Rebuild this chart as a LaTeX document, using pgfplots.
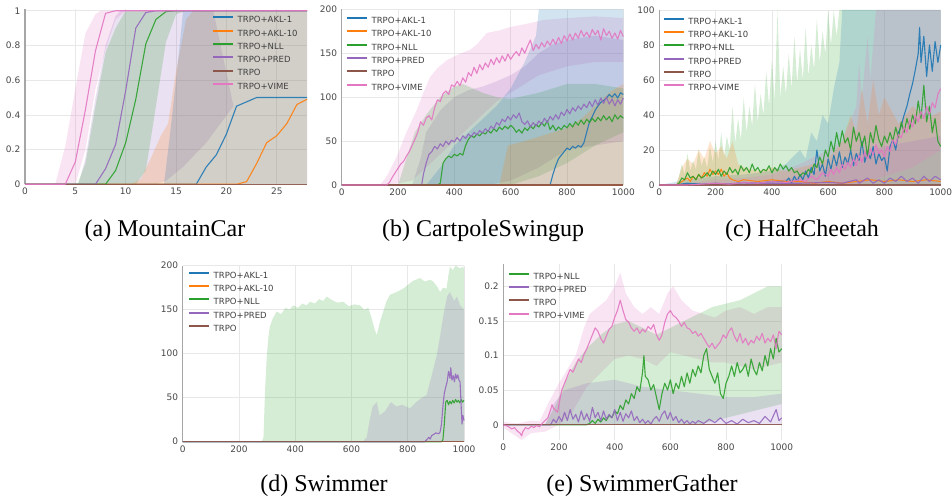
\documentclass[border=0pt]{standalone}
\usepackage{fontspec}
\setmainfont{Liberation Serif}
\newfontfamily\pf{DejaVu Sans}
\usepackage{pgfplots}
\pgfplotsset{compat=1.18}
\definecolor{cB}{HTML}{1F77B4}
\definecolor{cO}{HTML}{FF7F0E}
\definecolor{cG}{HTML}{2CA02C}
\definecolor{cP}{HTML}{9467BD}
\definecolor{cR}{HTML}{8C564B}
\definecolor{cK}{HTML}{E377C2}
\pgfplotsset{
  base/.style={
    scale only axis, anchor=south west, clip=false,
    axis lines=left, axis line style={-},
    x axis line style={draw=none},
    y axis line style={draw=black!35, line width=1.1pt},
    grid=major, grid style={black!9, line width=0.6pt},
    major tick length=0pt, tick style={draw=none},
    /pgf/number format/assume math mode=true,
    ticklabel style={font=\pf\fontsize{9}{10}\selectfont, text=black!72, inner sep=0pt},
    yticklabel style={xshift=-4.5pt},
    xticklabel style={yshift=-3.5pt},
    legend cell align=left,
    legend style={draw=none, fill=none, anchor=north west, inner sep=0pt, row sep=2.3pt, column sep=2pt,
      font=\pf\fontsize{8.5}{9}\selectfont, text=black!75,
      nodes={inner sep=1.5pt, text height=6.4pt, text depth=1.6pt}},
    legend image code/.code={\draw[#1, line width=2pt, opacity=1] (0pt,3pt) -- (20pt,3pt);},
  },
  band/.style={fill=#1, fill opacity=0.2, draw=none, forget plot},
  ln/.style={color=#1, line width=1.1pt, line join=round, draw opacity=0.9},
}
\begin{document}
\begin{tikzpicture}[x=1pt,y=1pt]
\useasboundingbox (0,0) rectangle (952,498);
% ---------------- (a) MountainCar
\begin{axis}[base, at={(25pt,313.7pt)}, width=282pt, height=175.3pt,
  xmin=0, xmax=28, ymin=0, ymax=1.01,
  xtick={0,5,10,15,20,25}, ytick={0,0.2,0.4,0.6,0.8,1},
  yticklabels={0,0.2,0.4,0.6,0.8,1},
  legend style={at={(0.663,0.968)}}]
\addplot[band=cK] coordinates {(3,0)(4,0.22)(5,0.55)(6,0.87)(7,0.98)(7.5,1)(28,1)(10,1)(9,0.95)(8,0.78)(7,0.55)(6,0.2)(5,0)};
\addplot[band=cP] coordinates {(5.3,0)(6,0.15)(7,0.5)(8,0.8)(9,0.97)(9.5,1)(18.7,1)(20.7,0.45)(18,0.24)(15.7,0.1)(14,0.02)(13,0)};
\addplot[band=cG] coordinates {(5.2,0)(6,0.12)(7,0.45)(8,0.76)(9,0.9)(10,1)(16,1)(15,0.98)(14,0.82)(13,0.45)(12,0.08)(11,0)};
\addplot[band=cO] coordinates {(10.5,0)(11.5,0.03)(12.5,0.15)(13.5,0.28)(14.2,0.35)(15,0.65)(16,0.95)(16.7,1)(28,1)(28,0)};
\addplot[band=cB] coordinates {(13.8,0)(14.4,0.29)(15,0.6)(15.7,1)(28,1)(28,0)};
\addplot[ln=cB] coordinates {(0,0)(17,0)(18,0.1)(19,0.17)(20,0.29)(21,0.45)(22,0.475)(23,0.5)(28,0.5)};
\addplot[ln=cO] coordinates {(0,0)(21,0)(22,0.015)(23,0.12)(24,0.24)(25,0.28)(26,0.35)(27,0.46)(28,0.49)};
\addplot[ln=cG] coordinates {(0,0)(8,0)(9,0.08)(10,0.24)(11,0.49)(12,0.81)(13,0.95)(14,0.995)(15,1)(28,1)};
\addplot[ln=cP] coordinates {(0,0)(7,0)(8,0.09)(9,0.23)(10,0.54)(11,0.9)(12,0.99)(13,1)(28,1)};
\addplot[ln=cR] coordinates {(0,0)(28,0)};
\addplot[ln=cK] coordinates {(0,0)(4,0)(5,0.13)(6,0.43)(7,0.77)(8,0.985)(9,1)(28,1)};
\legend{TRPO+AKL-1,TRPO+AKL-10,TRPO+NLL,TRPO+PRED,TRPO,TRPO+VIME}
\end{axis}
% ---------------- (b) CartpoleSwingup
\begin{axis}[base, at={(341.7pt,313pt)}, width=281.6pt, height=175.7pt,
  xmin=0, xmax=1000, ymin=0, ymax=200,
  xtick={0,200,400,600,800,1000}, xticklabels={0,200,400,600,800,1000},
  ytick={0,50,100,150,200},
  legend style={at={(0.015,0.965)}}]
\addplot[band=cK] coordinates {(137,0)(160,10)(195,32)(230,60)(266,85)(290,105)(314,123)(340,133)(373,142)(410,148)(456,154)(480,160)(515,173)(560,176)(600,180)(650,183)(692,186)(720,188)(760,189)(800,190)(900,192)(1000,190)(1000,140)(900,140)(800,135)(700,125)(650,115)(600,105)(550,95)(500,80)(450,65)(400,50)(350,35)(300,20)(250,5)(170,0)};
\addplot[band=cP] coordinates {(250,0)(280,30)(300,60)(350,85)(400,100)(450,108)(500,112)(550,118)(600,125)(650,135)(700,150)(750,160)(800,165)(900,170)(1000,165)(1000,50)(900,45)(800,40)(700,20)(600,5)(520,0)};
\addplot[band=cG] coordinates {(200,0)(230,30)(260,60)(300,80)(350,100)(400,112)(430,115)(500,105)(550,100)(600,98)(700,105)(800,115)(900,115)(1000,110)(1000,60)(900,45)(800,25)(700,10)(600,0)};
\addplot[band=cB] coordinates {(300,0)(350,20)(400,45)(450,60)(500,75)(550,90)(600,110)(650,140)(690,170)(700,200)(1000,200)(1000,0)};
\addplot[band=cO] coordinates {(560,0)(590,45)(650,50)(700,55)(750,60)(800,65)(850,75)(900,90)(950,105)(1000,115)(1000,0)};
\addplot[ln=cB] coordinates {(0,0)(740,0)(750,12)(760,22)(770,30)(780,34)(790,38)(800,42)(810,40)(820,44)(830,42)(840,45)(850,43)(860,48)(870,60)(880,72)(890,78)(900,85)(910,90)(920,94)(930,96)(940,99)(950,103)(960,100)(970,104)(980,99)(990,105)(1000,103)};
\addplot[ln=cO] coordinates {(0,0)(1000,0)};
\addplot[ln=cG] coordinates {(0,0)(340,0)(350,2)(360,25)(370,30)(380,33)(390,31)(400,35)(410,33)(420,36)(430,34)(440,45)(450,52)(460,56)(470,54)(480,58)(490,56)(500,60)(510,58)(520,62)(530,59)(540,64)(550,61)(560,66)(570,63)(580,67)(590,64)(600,68)(610,65)(620,60)(630,63)(640,59)(650,65)(660,62)(670,67)(680,64)(690,69)(700,66)(710,71)(720,67)(730,73)(740,63)(750,68)(760,62)(770,66)(780,63)(790,68)(800,65)(810,70)(820,66)(830,72)(840,68)(850,74)(860,69)(870,75)(880,71)(890,76)(900,72)(910,77)(920,73)(930,79)(940,74)(950,78)(960,72)(970,80)(980,75)(990,79)(1000,76)};
\addplot[ln=cP] coordinates {(0,0)(284,0)(290,12)(300,25)(310,35)(320,38)(330,44)(340,41)(350,47)(360,44)(370,50)(380,46)(390,51)(400,49)(410,54)(420,50)(430,56)(440,53)(450,58)(460,55)(470,60)(480,57)(490,62)(500,59)(510,64)(520,61)(530,67)(540,64)(550,71)(560,68)(570,75)(580,72)(590,78)(600,74)(610,80)(620,76)(630,82)(640,72)(650,69)(660,73)(670,66)(680,71)(690,67)(700,73)(710,69)(720,76)(730,71)(740,78)(750,74)(760,80)(770,75)(780,83)(790,79)(800,86)(810,81)(820,88)(830,84)(840,90)(850,86)(860,92)(870,88)(880,95)(890,89)(900,97)(910,91)(920,99)(930,93)(940,100)(950,92)(960,98)(970,90)(980,97)(990,92)(1000,99)};
\addplot[ln=cR] coordinates {(0,0)(1000,0)};
\addplot[ln=cK] coordinates {(0,0)(160,0)(170,3)(180,9)(190,14)(200,19)(210,24)(220,27)(230,33)(240,38)(250,45)(260,52)(270,60)(280,72)(290,68)(300,76)(310,79)(320,74)(330,88)(340,97)(350,95)(360,104)(370,107)(380,103)(390,114)(400,112)(410,118)(420,113)(430,122)(440,117)(450,128)(460,124)(470,134)(480,127)(490,137)(500,131)(510,139)(520,134)(530,143)(540,137)(550,145)(560,139)(570,147)(580,141)(590,149)(600,143)(610,148)(620,152)(630,147)(640,156)(650,150)(660,158)(670,165)(680,153)(690,160)(700,155)(710,162)(720,157)(730,164)(740,159)(750,166)(760,160)(770,168)(780,161)(790,170)(800,164)(810,172)(820,165)(830,173)(840,167)(850,176)(860,169)(870,174)(880,168)(890,177)(900,171)(910,176)(920,165)(930,178)(940,170)(950,175)(960,167)(970,173)(980,166)(990,176)(1000,169)};
\legend{TRPO+AKL-1,TRPO+AKL-10,TRPO+NLL,TRPO+PRED,TRPO,TRPO+VIME}
\end{axis}
% ---------------- (c) HalfCheetah
\begin{axis}[base, at={(659.3pt,313pt)}, width=281.4pt, height=175pt,
  xmin=0, xmax=1000, ymin=0, ymax=100,
  xtick={0,200,400,600,800,1000}, xticklabels={0,200,400,600,800,1000},
  ytick={0,20,40,60,80,100},
  legend style={at={(0.012,0.965)}}]
\addplot[band=cG] coordinates {(60,0)(70,5)(80,12)(90,6)(100,18)(110,8)(120,14)(130,9)(140,20)(150,11)(160,16)(170,10)(180,22)(190,13)(200,25)(210,14)(220,30)(230,16)(240,28)(250,20)(260,45)(270,24)(280,38)(290,26)(300,50)(310,30)(320,45)(330,34)(340,58)(350,36)(360,52)(370,40)(380,65)(390,45)(400,72)(410,48)(420,100)(430,50)(440,68)(450,52)(460,75)(470,55)(480,85)(490,58)(500,78)(510,60)(520,90)(530,62)(540,80)(550,66)(560,95)(570,70)(580,88)(590,75)(600,100)(610,80)(620,100)(630,85)(640,100)(1000,100)(1000,0)};
\addplot[band=cB] coordinates {(0,0)(100,3)(200,5)(300,6)(400,8)(450,12)(500,20)(520,15)(540,30)(560,25)(580,40)(600,35)(620,55)(640,70)(650,100)(1000,100)(1000,0)};
\addplot[band=cO] coordinates {(60,0)(80,10)(100,15)(120,12)(140,20)(160,15)(180,25)(200,18)(220,22)(240,15)(260,25)(280,12)(300,10)(350,8)(400,10)(450,8)(500,10)(550,12)(600,15)(650,25)(680,40)(700,30)(720,55)(740,35)(760,60)(780,40)(800,50)(850,35)(900,45)(950,38)(1000,42)(1000,0)};
\addplot[band=cP] coordinates {(0,0)(400,2)(500,5)(600,10)(700,18)(800,22)(900,25)(1000,28)(1000,0)};
\addplot[band=cK] coordinates {(0,0)(100,1)(200,3)(300,4)(400,6)(500,12)(600,20)(650,25)(700,45)(710,70)(720,50)(740,85)(750,60)(770,100)(1000,100)(1000,20)(900,10)(800,5)(700,0)};
\addplot[ln=cB] coordinates {(0,0)(50,0)(100,1)(150,0.5)(200,1)(250,0.5)(300,1.5)(350,1)(400,2)(450,2)(460,4)(470,1)(480,5)(490,2)(500,6)(510,3)(520,8)(530,4)(540,10)(550,6)(560,20)(570,8)(580,12)(590,5)(600,15)(610,9)(620,17)(630,11)(640,19)(650,10)(660,16)(670,12)(680,20)(690,11)(700,18)(710,14)(720,25)(730,13)(740,19)(750,15)(760,22)(770,12)(780,18)(790,14)(800,16)(810,8)(820,22)(830,26)(840,20)(850,30)(860,34)(870,40)(880,45)(890,52)(900,58)(910,66)(920,75)(925,90)(930,70)(940,85)(950,62)(960,80)(970,65)(980,82)(990,70)(1000,80)};
\addplot[ln=cO] coordinates {(0,0)(60,0)(80,2)(100,4)(110,2)(120,5)(130,3)(140,6)(150,4)(160,7)(170,5)(180,9)(190,6)(200,8)(210,6)(220,9)(230,5)(240,7)(250,4)(260,3)(280,2)(300,3)(350,2)(400,3)(450,2)(500,2)(550,1)(600,2)(650,1)(700,2)(750,3)(800,2)(850,3)(900,2)(950,3)(1000,2)};
\addplot[ln=cG] coordinates {(0,0)(60,0)(70,1)(80,4)(90,3)(100,7)(110,4)(120,5)(130,3)(140,6)(150,4)(160,5)(170,7)(180,5)(190,8)(200,6)(210,9)(220,5)(230,8)(240,6)(250,10)(260,7)(270,9)(280,6)(290,11)(300,8)(310,10)(320,7)(330,12)(340,8)(350,10)(360,7)(370,9)(380,8)(390,11)(400,7)(410,10)(420,8)(430,12)(440,9)(450,11)(460,8)(470,10)(480,7)(490,8)(500,5)(510,7)(520,6)(530,9)(540,7)(550,12)(560,10)(570,16)(580,12)(590,20)(600,16)(610,25)(620,19)(630,30)(640,22)(650,31)(660,24)(670,27)(680,20)(690,33)(700,25)(710,30)(720,22)(730,28)(740,16)(750,30)(760,24)(770,34)(780,26)(790,22)(800,28)(810,24)(820,30)(830,25)(840,33)(850,27)(860,36)(870,30)(880,38)(890,32)(900,40)(910,35)(920,48)(930,38)(940,57)(950,36)(960,45)(970,30)(980,38)(990,25)(1000,22)};
\addplot[ln=cP] coordinates {(0,0)(100,0)(200,0.5)(300,0.5)(400,1)(500,1)(600,1.5)(650,1)(700,3)(710,1)(720,2)(740,4)(760,1)(780,3)(800,1)(820,4)(840,2)(860,5)(880,2)(900,4)(920,1)(940,5)(960,2)(980,5)(1000,3)};
\addplot[ln=cR] coordinates {(0,0)(1000,0)};
\addplot[ln=cK] coordinates {(0,0)(100,0)(150,0.5)(200,1)(250,0.5)(300,1.5)(350,1)(400,2)(450,1.5)(500,3)(520,2)(540,5)(560,3)(580,7)(600,5)(610,9)(620,6)(630,10)(640,7)(650,12)(660,9)(670,13)(680,10)(690,15)(700,11)(710,17)(720,13)(730,19)(740,15)(750,21)(760,17)(770,23)(780,18)(790,20)(800,16)(810,22)(820,19)(830,26)(840,23)(850,29)(860,27)(870,33)(880,30)(890,37)(900,33)(910,40)(920,36)(930,42)(940,38)(950,45)(960,40)(970,47)(980,44)(990,52)(1000,55)};
\legend{TRPO+AKL-1,TRPO+AKL-10,TRPO+NLL,TRPO+PRED,TRPO,TRPO+VIME}
\end{axis}
% ---------------- (d) Swimmer
\begin{axis}[base, at={(182.7pt,56.3pt)}, width=281.3pt, height=176pt,
  xmin=0, xmax=1000, ymin=0, ymax=200,
  xtick={0,200,400,600,800,1000}, xticklabels={0,200,400,600,800,1000},
  ytick={0,50,100,150,200},
  legend style={at={(0.019,0.975)}}]
\addplot[band=cG] coordinates {(280,0)(287,4)(293,60)(299,98)(305,120)(310,131)(320,140)(334,148)(350,145)(365,152)(380,150)(393,155)(410,152)(425,157)(440,155)(453,159)(470,157)(485,162)(500,160)(512,165)(530,161)(550,158)(571,159)(590,154)(610,156)(630,155)(645,150)(660,152)(672,140)(682,128)(690,121)(701,136)(715,150)(725,160)(737,167)(760,170)(784,174)(800,178)(820,183)(844,186)(860,182)(880,184)(891,182)(905,176)(915,170)(925,175)(938,174)(945,190)(950,199)(960,195)(970,200)(986,197)(998,199)(1000,195)(1000,0)};
\addplot[band=cP] coordinates {(640,0)(654,5)(665,25)(675,40)(690,45)(700,30)(720,35)(740,45)(760,40)(780,42)(808,38)(830,45)(850,50)(867,53)(885,75)(903,98)(915,120)(927,144)(940,165)(950,170)(965,160)(975,165)(986,155)(1000,150)(1000,0)};
\addplot[ln=cB] coordinates {(0,0)(1000,0)};
\addplot[ln=cO] coordinates {(0,0)(1000,0)};
\addplot[ln=cG] coordinates {(0,0)(920,0)(925,2)(930,20)(935,45)(940,47)(945,42)(950,46)(955,43)(960,47)(965,44)(970,48)(975,45)(980,47)(985,44)(990,48)(995,45)(1000,47)};
\addplot[ln=cP] coordinates {(0,0)(860,0)(867,2)(875,5)(880,3)(885,7)(891,8)(900,10)(910,9)(915,11)(920,20)(925,40)(930,55)(935,62)(940,68)(945,80)(950,72)(953,84)(957,70)(962,75)(966,68)(970,77)(974,72)(978,76)(982,70)(986,68)(990,40)(993,20)(996,30)(1000,24)};
\addplot[ln=cR] coordinates {(0,0)(1000,0)};
\legend{TRPO+AKL-1,TRPO+AKL-10,TRPO+NLL,TRPO+PRED,TRPO}
\end{axis}
% ---------------- (e) SwimmerGather
\begin{axis}[base, at={(503.3pt,58pt)}, width=278.4pt, height=176.5pt,
  xmin=0, xmax=1000, ymin=-0.022, ymax=0.233,
  xtick={0,200,400,600,800,1000}, xticklabels={0,200,400,600,800,1000},
  ytick={0,0.05,0.1,0.15,0.2}, yticklabels={0,0.05,0.1,0.15,0.2},
  legend style={at={(0.017,0.958)}}]
\addplot[band=cK] coordinates {(0,0.004)(50,0.002)(100,0.006)(130,0.005)(160,0.03)(200,0.06)(230,0.08)(260,0.1)(290,0.14)(310,0.16)(340,0.17)(370,0.18)(400,0.2)(420,0.22)(440,0.19)(470,0.17)(500,0.16)(530,0.17)(560,0.16)(590,0.19)(610,0.2)(640,0.18)(680,0.165)(720,0.16)(760,0.155)(800,0.165)(850,0.17)(900,0.16)(950,0.17)(1000,0.17)(1000,0.09)(950,0.085)(900,0.08)(850,0.085)(800,0.09)(750,0.09)(700,0.095)(650,0.1)(600,0.105)(550,0.085)(500,0.095)(450,0.1)(400,0.095)(350,0.075)(300,0.055)(250,0.02)(200,0)(150,-0.01)(100,-0.012)(66,-0.022)(40,-0.015)(0,-0.004)};
\addplot[band=cG] coordinates {(150,0)(190,0.03)(220,0.06)(260,0.09)(300,0.11)(350,0.13)(400,0.145)(450,0.15)(500,0.14)(550,0.13)(600,0.14)(650,0.15)(700,0.16)(750,0.17)(800,0.175)(850,0.18)(900,0.19)(950,0.2)(1000,0.2)(1000,0.03)(900,0.02)(800,0.01)(700,0)};
\addplot[band=cP] coordinates {(150,0)(180,0.03)(220,0.05)(300,0.06)(400,0.065)(500,0.055)(600,0.05)(700,0.045)(800,0.04)(900,0.04)(1000,0.045)(1000,0)};
\addplot[ln=cG] coordinates {(0,0)(300,0)(310,0.002)(320,0.006)(330,0.002)(340,0.008)(350,0.004)(360,0.01)(370,0.006)(380,0.014)(390,0.01)(400,0.02)(410,0.016)(420,0.028)(430,0.022)(440,0.036)(450,0.03)(460,0.045)(470,0.038)(480,0.055)(490,0.048)(500,0.075)(505,0.1)(510,0.07)(520,0.065)(530,0.05)(540,0.058)(550,0.04)(560,0.022)(570,0.045)(580,0.06)(590,0.05)(600,0.065)(610,0.045)(620,0.06)(630,0.052)(640,0.07)(650,0.055)(660,0.075)(670,0.06)(680,0.08)(690,0.07)(700,0.085)(710,0.075)(720,0.1)(730,0.11)(740,0.08)(750,0.07)(760,0.06)(770,0.075)(780,0.045)(790,0.038)(800,0.06)(810,0.07)(820,0.085)(830,0.07)(840,0.09)(850,0.075)(860,0.08)(870,0.088)(880,0.07)(890,0.095)(900,0.08)(910,0.072)(920,0.09)(930,0.078)(940,0.1)(950,0.085)(960,0.11)(970,0.095)(980,0.125)(990,0.105)(1000,0.11)};
\addplot[ln=cP] coordinates {(0,0)(170,0)(180,0.008)(190,0.003)(200,0.012)(210,0.005)(220,0.018)(230,0.006)(240,0.022)(250,0.008)(260,0.015)(270,0.004)(280,0.02)(290,0.007)(300,0.016)(310,0.005)(320,0.025)(330,0.01)(340,0.018)(350,0.006)(360,0.02)(370,0.008)(380,0.015)(390,0.01)(400,0.022)(410,0.006)(420,0.018)(430,0.005)(440,0.016)(450,0.01)(460,0.02)(470,0.006)(480,0.012)(490,0.003)(500,0.008)(510,0.002)(520,0.006)(530,0.001)(540,0.008)(550,0.012)(560,0.005)(570,0.015)(580,0.02)(590,0.008)(600,0.018)(610,0.006)(620,0.012)(630,0.003)(640,0.008)(650,0.002)(660,0.006)(670,0.001)(680,0.005)(690,0.002)(700,0.006)(720,0.002)(740,0.008)(760,0.003)(780,0.01)(800,0.002)(820,0.006)(840,0.001)(860,0.008)(880,0.003)(900,0.006)(920,0.002)(940,0.012)(960,0.004)(980,0.022)(990,0.006)(1000,0.01)};
\addplot[ln=cR] coordinates {(0,0)(1000,0)};
\addplot[ln=cK] coordinates {(0,0)(10,-0.001)(20,-0.003)(30,-0.006)(40,-0.004)(50,-0.009)(60,-0.012)(66,-0.016)(70,-0.01)(80,-0.004)(90,-0.006)(100,-0.002)(110,-0.004)(120,-0.001)(130,-0.003)(140,0.002)(150,0.006)(160,0.01)(170,0.022)(175,0.029)(180,0.024)(190,0.02)(195,0.018)(200,0.03)(210,0.05)(220,0.06)(230,0.07)(240,0.08)(250,0.076)(260,0.085)(270,0.095)(280,0.09)(290,0.102)(300,0.11)(310,0.12)(320,0.13)(330,0.14)(340,0.135)(350,0.125)(360,0.118)(370,0.128)(380,0.138)(390,0.142)(400,0.155)(410,0.165)(420,0.18)(430,0.165)(440,0.152)(450,0.148)(460,0.14)(470,0.135)(480,0.14)(490,0.132)(500,0.138)(510,0.134)(520,0.142)(530,0.138)(540,0.145)(550,0.13)(560,0.122)(570,0.13)(580,0.148)(590,0.16)(600,0.165)(610,0.158)(620,0.155)(630,0.15)(640,0.142)(650,0.148)(660,0.14)(670,0.138)(680,0.132)(690,0.135)(700,0.128)(710,0.132)(720,0.125)(730,0.118)(740,0.112)(750,0.118)(760,0.11)(770,0.115)(780,0.12)(790,0.13)(800,0.125)(810,0.135)(820,0.14)(830,0.128)(840,0.12)(850,0.132)(860,0.118)(870,0.125)(880,0.115)(890,0.122)(900,0.118)(910,0.128)(920,0.122)(930,0.132)(940,0.118)(950,0.125)(960,0.12)(970,0.13)(980,0.11)(990,0.135)(1000,0.13)};
\legend{TRPO+NLL,TRPO+PRED,TRPO,TRPO+VIME}
\end{axis}
% ---------------- captions
\node[font=\fontsize{24}{28}\selectfont] at (165,267) {(a) MountainCar};
\node[font=\fontsize{24}{28}\selectfont] at (483,267) {(b) CartpoleSwingup};
\node[font=\fontsize{24}{28}\selectfont] at (802,267) {(c) HalfCheetah};
\node[font=\fontsize{24}{28}\selectfont] at (324,12) {(d) Swimmer};
\node[font=\fontsize{24}{28}\selectfont] at (642,12) {(e) SwimmerGather};
\end{tikzpicture}
\end{document}
